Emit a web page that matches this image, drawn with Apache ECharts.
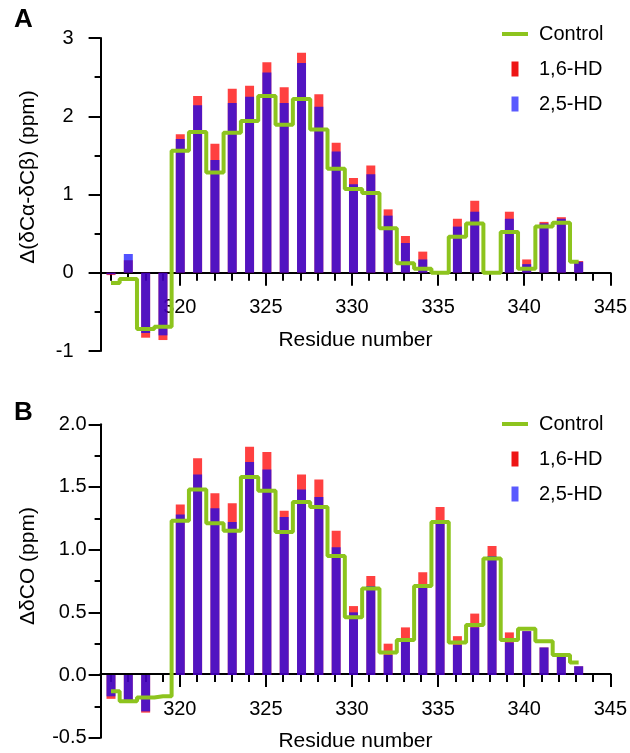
<!DOCTYPE html>
<html>
<head>
<meta charset="utf-8">
<script src="https://cdn.jsdelivr.net/npm/echarts@6/dist/echarts.min.js"></script>
<style>html,body{margin:0;padding:0;background:#fff;}#c{width:630px;height:753px;}</style>
</head>
<body>
<div id="c"></div>
<script>
const residues = [316,317,318,319,320,321,322,323,324,325,326,327,328,329,330,331,332,333,334,335,336,337,338,339,340,341,342,343];
const xTickValues = [316,317,318,319,320,321,322,323,324,325,326,327,328,329,330,331,332,333,334,335,336,337,338,339,340,341,342,343,344,345];
const xLabelValues = [320,325,330,335,340,345];

// Panel A: Δ(δCα-δCβ)
const hd16A = [-0.03,0.16,-0.83,-0.86,1.77,2.26,1.65,2.35,2.39,2.69,2.37,2.81,2.28,1.66,1.21,1.37,0.81,0.47,0.27,null,0.69,0.92,null,0.78,0.17,0.65,0.71,0.15];
const hd25A = [-0.02,0.24,-0.77,-0.80,1.71,2.14,1.44,2.17,2.25,2.56,2.17,2.68,2.12,1.55,1.13,1.26,0.73,0.38,0.17,null,0.59,0.78,null,0.69,0.11,0.63,0.69,0.14];
const controlA = [-0.13,-0.08,-0.72,-0.69,1.56,1.80,1.28,1.79,1.94,2.26,1.89,2.22,1.83,1.33,1.07,1.02,0.57,0.12,0.05,0.00,0.46,0.63,0.00,0.52,0.05,0.59,0.64,0.14];

// Panel B: ΔδCO
const hd16B = [-0.19,-0.22,-0.30,null,1.36,1.73,1.45,1.37,1.82,1.78,1.31,1.60,1.56,1.15,0.55,0.79,0.25,0.38,0.82,1.34,0.31,0.49,1.03,0.34,0.35,0.22,0.15,0.07];
const hd25B = [-0.17,-0.22,-0.29,null,1.28,1.60,1.33,1.22,1.70,1.64,1.26,1.48,1.42,1.02,0.50,0.71,0.16,0.27,0.70,1.21,0.24,0.38,0.95,0.26,0.35,0.22,0.15,0.07];
const controlB = [-0.13,-0.21,-0.18,-0.17,1.23,1.48,1.21,1.15,1.58,1.47,1.14,1.38,1.34,0.95,0.46,0.69,0.18,0.28,0.71,1.22,0.26,0.40,0.93,0.28,0.37,0.27,0.16,0.10];

const FONT = 'Liberation Sans, Arial, sans-serif';
const GREEN = '#8DC41E';
const RED = 'rgba(255,0,0,0.75)';
const BLUE = 'rgba(0,0,255,0.68)';
const XMIN = 315.4, XMAX = 345;

function pairs(vals){ return residues.map((r,i)=> vals[i]===null ? [r,null] : [r, vals[i]]); }
function barPairs(vals){ const out=[]; residues.forEach((r,i)=>{ if(vals[i]!==null) out.push([r,vals[i]]); }); return out; }

// data grid (hidden x axis) + axis grid whose bottom sits on y = 0
function xAxesFor(dataGrid, axisGrid){
  const base = {
    type:'value', gridIndex:axisGrid, min:XMIN, max:XMAX, position:'bottom',
    splitLine:{show:false},
    axisLine:{show:true, onZero:false, lineStyle:{color:'#000', width:2}},
  };
  return [
    {type:'value', gridIndex:dataGrid, min:XMIN, max:XMAX, show:false},
    Object.assign({}, base, {
      axisTick:{show:true, customValues:xTickValues, length:8, lineStyle:{color:'#000', width:2}},
      axisLabel:{show:true, customValues:xLabelValues, margin:25, fontSize:20, color:'#000', fontFamily:FONT},
      name:'Residue number', nameLocation:'middle', nameGap:57,
      nameTextStyle:{fontSize:21, color:'#000', fontFamily:FONT}
    }),
    Object.assign({}, base, {
      axisTick:{show:true, customValues:xLabelValues, length:13, lineStyle:{color:'#000', width:2}},
      axisLabel:{show:false}
    })
  ];
}

function yAxisFor(g, min, max, interval, margin, fmt){
  return {
    type:'value', gridIndex:g, min:min, max:max, interval:interval,
    splitLine:{show:false},
    axisLine:{show:true, onZero:false, lineStyle:{color:'#000', width:2}},
    axisTick:{show:true, length:12, lineStyle:{color:'#000', width:2}},
    minorTick:{show:true, splitNumber:2, length:6, lineStyle:{color:'#000', width:2}},
    axisLabel:{margin:margin, fontSize:20, color:'#000', fontFamily:FONT, formatter:fmt}
  };
}
function dummyY(g){ return {type:'value', gridIndex:g, min:0, max:1, show:false, axisLine:{onZero:false}}; }

function seriesFor(xi, yi, red, blue, ctrl){
  return [
    {name:'1,6-HD', type:'bar', xAxisIndex:xi, yAxisIndex:yi, data:barPairs(red), barWidth:9, barGap:'-100%', itemStyle:{color:RED}, z:2, animation:false},
    {name:'2,5-HD', type:'bar', xAxisIndex:xi, yAxisIndex:yi, data:barPairs(blue), barWidth:9, barGap:'-100%', itemStyle:{color:BLUE}, z:3, animation:false},
    {name:'Control', type:'line', step:'middle', xAxisIndex:xi, yAxisIndex:yi, data:pairs(ctrl), showSymbol:false, symbol:'none', lineStyle:{color:GREEN, width:4}, itemStyle:{color:GREEN}, z:5, animation:false}
  ];
}

function legendFor(top){
  return {
    orient:'vertical', left:497, top:top, itemWidth:26, itemHeight:15, itemGap:15,
    textStyle:{fontSize:20, color:'#000', fontFamily:FONT, padding:[0,0,0,6], lineHeight:20},
    selectedMode:false,
    data:[
      {name:'Control', icon:'path://M0,0h26v4h-26z', itemStyle:{color:GREEN, opacity:1}},
      {name:'1,6-HD', icon:'path://M0,0h7v15h-7z', itemStyle:{color:'#EE1515', opacity:1}},
      {name:'2,5-HD', icon:'path://M0,0h7v15h-7z', itemStyle:{color:'#5A5AFF', opacity:1}}
    ]
  };
}

const A_TOP = 38, A_H = 313, B_TOP = 424.3, B_H = 313.4;
const chart = echarts.init(document.getElementById('c'), null, {renderer:'canvas'});
chart.setOption({
  backgroundColor:'#fff',
  animation:false,
  textStyle:{fontFamily:FONT},
  grid:[
    {left:100.6, width:512.7, top:A_TOP, height:A_H},
    {left:100.6, width:512.7, top:A_TOP, height:A_H*3/4},
    {left:100.6, width:512.7, top:B_TOP, height:B_H},
    {left:100.6, width:512.7, top:B_TOP, height:B_H*2/2.5}
  ],
  xAxis: xAxesFor(0,1).concat(xAxesFor(2,3)),
  yAxis:[
    yAxisFor(0, -1, 3, 1, 27, v=>String(v)),
    dummyY(1),
    yAxisFor(2, -0.5, 2, 0.5, 14, v=>v.toFixed(1)),
    dummyY(3)
  ],
  legend:[legendFor(19), legendFor(409)],
  series: seriesFor(0, 0, hd16A, hd25A, controlA).concat(seriesFor(3, 2, hd16B, hd25B, controlB)),
  graphic:[
    {type:'text', left:14, top:7, style:{text:'A', fontSize:26, fontWeight:'bold', fill:'#000', fontFamily:FONT}},
    {type:'text', left:14, top:400, style:{text:'B', fontSize:26, fontWeight:'bold', fill:'#000', fontFamily:FONT}},
    {type:'text', x:28, y:177, rotation:Math.PI/2, style:{text:'Δ(δCα-δCβ) (ppm)', fontSize:21, fill:'#000', fontFamily:FONT, align:'center', verticalAlign:'middle'}},
    {type:'text', x:28, y:566, rotation:Math.PI/2, style:{text:'ΔδCO (ppm)', fontSize:21, fill:'#000', fontFamily:FONT, align:'center', verticalAlign:'middle'}}
  ]
});
</script>
</body>
</html>
